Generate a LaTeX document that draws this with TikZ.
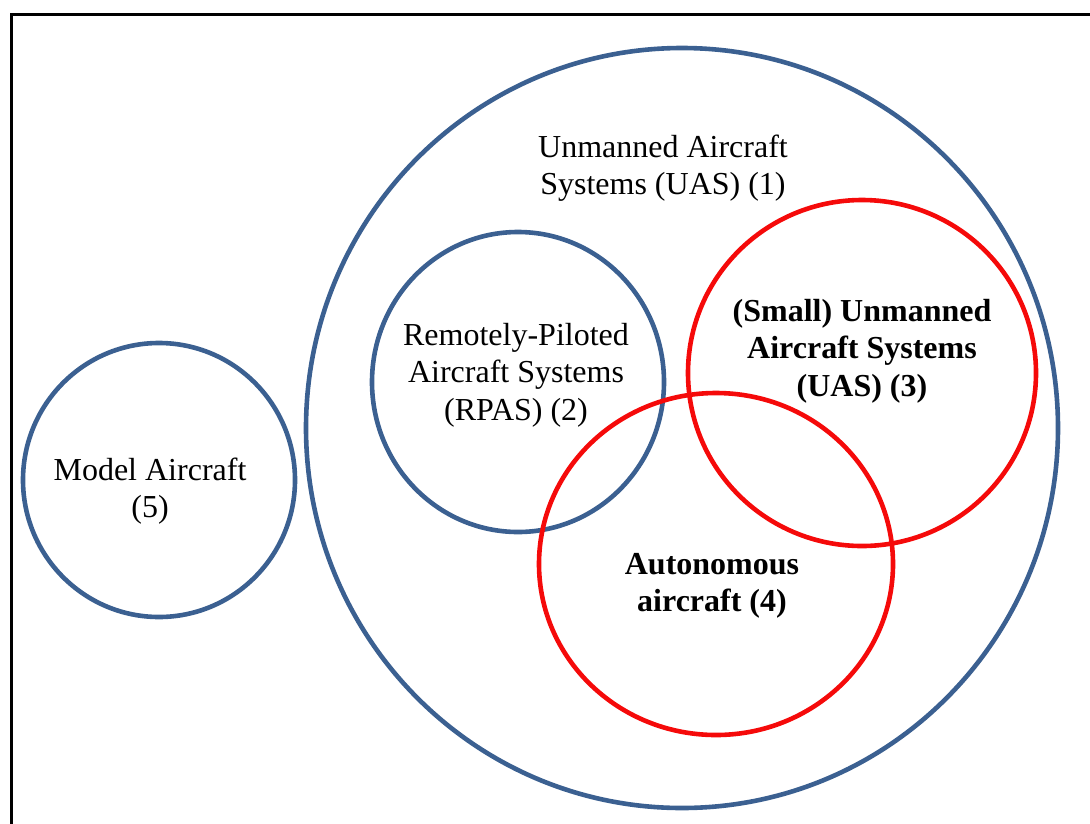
\documentclass[tikz,border=0pt]{standalone}
\usepackage{fontspec}
\setmainfont{Liberation Serif}
\usetikzlibrary{calc}

\definecolor{setblue}{RGB}{59,96,145}
\definecolor{setred}{RGB}{245,10,10}

\tikzset{
  blueset/.style={draw=setblue, line width=4.6pt},
  redset/.style={draw=setred, line width=4.6pt},
  label/.style={align=center, inner sep=0pt, font=\fontsize{32}{37.5}\selectfont},
  boldlabel/.style={label, font=\fontsize{32}{37.5}\selectfont\bfseries}
}

\begin{document}
\begin{tikzpicture}[x=1pt,y=-1pt]
  \useasboundingbox (0,0) rectangle (1090,823);
  \clip (0,0) rectangle (1090,823);

  % frame
  \draw[line width=3pt] (11.5,14.5) rectangle (1110,850);

  % sets
  \draw[blueset] (682,428) ellipse (376 and 380);
  \draw[blueset] (518,382) ellipse (146 and 150);
  \draw[blueset] (159,480) ellipse (136 and 137);
  \draw[redset] (716,564) ellipse (177 and 171);
  \draw[redset] (862,373) ellipse (174 and 173);

  % texts
  \node[label] (uas) at (663,168) {Unmanned Aircraft\\Systems (UAS) (1)};
  \node[label] (rpas) at (516,375) {Remotely-Piloted\\Aircraft Systems\\(RPAS) (2)};
  \node[boldlabel] (suas) at (862,351) {(Small) Unmanned\\Aircraft Systems\\(UAS) (3)};
  \node[boldlabel] (auto) at (712,586) {Autonomous\\aircraft (4)};
  \node[label] (model) at (150,491) {Model Aircraft\\(5)};
\end{tikzpicture}
\end{document}
